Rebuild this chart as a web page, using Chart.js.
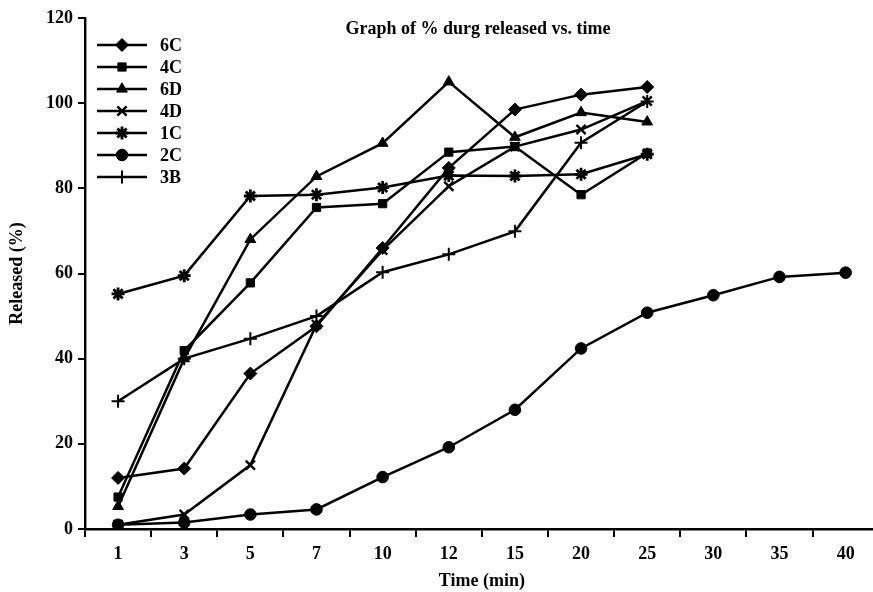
<!DOCTYPE html>
<html>
<head>
<meta charset="utf-8">
<script src="https://cdn.jsdelivr.net/npm/chart.js@4.4.1/dist/chart.umd.min.js"></script>
<style>
  html, body { margin: 0; padding: 0; background: #fff; overflow: hidden; }
  #wrap { width: 888px; height: 592px; }
  #c { width: 888px; height: 592px; }
</style>
</head>
<body>
<div id="wrap"><canvas id="c" width="888" height="592"></canvas></div>
<script>
const categories = ['1', '3', '5', '7', '10', '12', '15', '20', '25', '30', '35', '40'];
const yTicks = [0, 20, 40, 60, 80, 100, 120];

const s6C = [12, 14.2, 36.5, 47.6, 66, 84.8, 98.5, 102, 103.8, null, null, null];
const s4C = [7.5, 41.9, 57.8, 75.5, 76.4, 88.5, 89.8, 78.5, 88.3, null, null, null];
const s6D = [5.3, 40, 68, 82.8, 90.6, 105, 92, 97.8, 95.6, null, null, null];
const s4D = [1, 3.4, 15, 48, 65.5, 80.5, 89.8, 93.8, 100.5, null, null, null];
const s1C = [55.2, 59.5, 78.2, 78.5, 80.2, 83, 82.9, 83.3, 88, null, null, null];
const s2C = [1, 1.5, 3.4, 4.6, 12.2, 19.2, 28, 42.4, 50.8, 54.9, 59.2, 60.2];
const s3B = [30, 40, 44.7, 50, 60.3, 64.5, 69.9, 90.7, 100.4, null, null, null];

const FONT = "'Liberation Serif', 'Times New Roman', serif";

function ds(label, data, pointStyle, radius, bw) {
  return {
    label, data, pointStyle,
    borderColor: '#000', backgroundColor: '#000',
    pointBackgroundColor: '#000', pointBorderColor: '#000',
    borderWidth: 2.5, pointRadius: radius, pointBorderWidth: bw,
    pointHoverRadius: radius, tension: 0, spanGaps: false
  };
}

const datasets = [
  ds('6C', s6C, 'rectRot', 6.5, 1),
  ds('4C', s4C, 'rect', 5.8, 1),
  ds('6D', s6D, 'triangle', 6.2, 1),
  ds('4D', s4D, 'crossRot', 6.5, 2.4),
  ds('1C', s1C, 'star', 6.5, 2.8),
  ds('2C', s2C, 'circle', 5.8, 1),
  ds('3B', s3B, 'cross', 6.5, 2)
];

const overlay = {
  id: 'overlay',
  afterDraw(chart) {
    const ctx = chart.ctx;
    ctx.save();
    ctx.fillStyle = '#000';
    ctx.font = "bold 18px " + FONT;
    ctx.textAlign = 'center';
    ctx.textBaseline = 'middle';
    ctx.fillText('Graph of % durg released vs. time', 478, 29);
    const x0 = 97, x1 = 147, xt = 160;
    let y = 45;
    ctx.font = "bold 18px " + FONT;
    ctx.textAlign = 'left';
    chart.data.datasets.forEach(d => {
      ctx.strokeStyle = '#000';
      ctx.lineWidth = 2.6;
      ctx.beginPath();
      ctx.moveTo(x0, y); ctx.lineTo(x1, y);
      ctx.stroke();
      ctx.lineWidth = d.pointBorderWidth;
      ctx.fillStyle = '#000';
      Chart.helpers.drawPoint(ctx, {pointStyle: d.pointStyle, radius: d.pointRadius, rotation: 0, borderWidth: d.pointBorderWidth}, (x0 + x1) / 2, y);
      ctx.fillStyle = '#000';
      ctx.fillText(d.label, xt, y + 1);
      y += 22;
    });
    ctx.restore();
  }
};

const bg = {
  id: 'bg',
  beforeDraw(chart) {
    const ctx = chart.ctx;
    ctx.save();
    ctx.fillStyle = '#fff';
    ctx.fillRect(0, 0, chart.width, chart.height);
    ctx.restore();
  }
};

new Chart(document.getElementById('c'), {
  type: 'line',
  data: { labels: categories, datasets },
  plugins: [bg, overlay],
  options: {
    responsive: false,
    animation: false,
    events: [],
    layout: { padding: { top: 18, right: 0, left: 0, bottom: 0 } },
    plugins: { legend: { display: false }, tooltip: { enabled: false }, title: { display: false } },
    scales: {
      x: {
        type: 'category',
        offset: true,
        grid: { display: true, offset: true, drawOnChartArea: false, drawTicks: true, tickLength: 8, color: '#000', lineWidth: 2 },
        border: { display: true, color: '#000', width: 2.4 },
        ticks: { color: '#000', font: { family: FONT, size: 18, weight: 'bold' }, padding: 7, maxRotation: 0, autoSkip: false },
        title: { display: true, text: 'Time (min)', color: '#000', font: { family: FONT, size: 18, weight: 'bold' }, padding: { top: 6, bottom: 0 } },
        afterFit(scale) { scale.height = 63; scale.paddingRight = 0; scale.paddingLeft = 0; }
      },
      y: {
        min: 0, max: 120,
        afterBuildTicks(scale) { scale.ticks = yTicks.map(v => ({ value: v })); },
        grid: { display: true, drawOnChartArea: false, drawTicks: true, tickLength: 7, color: '#000', lineWidth: 2 },
        border: { display: true, color: '#000', width: 2.4 },
        ticks: { color: '#000', font: { family: FONT, size: 18, weight: 'bold' }, padding: 5 },
        title: { display: true, text: 'Released (%)', color: '#000', font: { family: FONT, size: 18, weight: 'bold' }, padding: { top: 7, bottom: 4 } },
        afterFit(scale) { scale.width = 85; }
      }
    }
  }
});
</script>
</body>
</html>
